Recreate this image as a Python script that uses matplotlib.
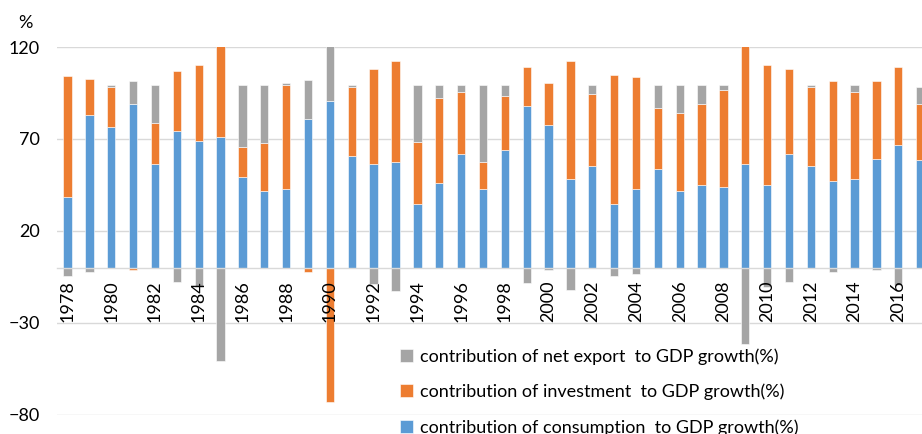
import numpy as np
import matplotlib
matplotlib.use("Agg")
import matplotlib.pyplot as plt

plt.rcParams['font.family'] = ['Lato', 'DejaVu Sans']

years = list(range(1978, 2018))
consumption = [38.4, 83.3, 76.5, 88.8, 56.4, 74.2, 68.7, 71.1, 49.4, 41.7,
               42.9, 81.0, 90.9, 60.8, 56.4, 57.3, 34.9, 46.1, 61.8, 42.9,
               64.2, 87.7, 77.6, 48.3, 55.2, 34.9, 42.9, 53.9, 41.7, 45.1,
               44.0, 56.3, 45.1, 61.8, 55.2, 47.2, 48.3, 59.4, 66.5, 58.4]
investment = [66.1, 19.2, 21.5, -1.0, 22.2, 32.8, 41.6, 79.3, 16.0, 25.9,
              56.2, -2.2, -72.9, 37.2, 51.6, 55.2, 33.6, 46.1, 34.0, 14.5,
              29.2, 21.5, 22.6, 64.2, 39.3, 69.8, 60.7, 32.7, 42.7, 43.8,
              52.9, 85.1, 65.2, 46.2, 42.8, 54.2, 47.5, 42.0, 42.7, 30.5]
net_export = [-4.5, -2.2, 1.1, 12.6, 20.5, -7.6, -10.3, -50.4, 33.7, 31.5,
              1.3, 21.3, 82.0, 1.1, -8.9, -12.5, 30.6, 6.9, 3.3, 41.7,
              5.7, -8.5, -1.1, -12.1, 4.6, -4.4, -3.3, 12.5, 14.7, 10.2,
              2.2, -41.4, -10.3, -7.6, 1.1, -2.2, 3.3, -1.0, -9.2, 9.1]
yticks = [-80, -30, 20, 70, 120]

series = [
    ('contribution of consumption  to GDP growth(%)', consumption, '#5B9BD5'),
    ('contribution of investment  to GDP growth(%)', investment, '#ED7D31'),
    ('contribution of net export  to GDP growth(%)', net_export, '#A5A5A5'),
]

fig = plt.figure(figsize=(9.22, 4.34), dpi=100)
# axes runs a bit past the right edge, like the cropped original
ax = fig.add_axes([0.0614, 0.0438, 0.9485, 0.8479])

# spine first: moving it resets the tick settings
for s in ['top', 'right', 'left']:
    ax.spines[s].set_visible(False)
ax.spines['bottom'].set_position(('data', 0))
ax.spines['bottom'].set_color('#d9d9d9')
ax.spines['bottom'].set_linewidth(1.0)
ax.spines['bottom'].set_zorder(3)

x = np.array(years)
pos_base = np.zeros(len(years))
neg_base = np.zeros(len(years))
handles = []
for label, vals, color in series:
    v = np.array(vals)
    bottom = np.where(v >= 0, pos_base, neg_base)
    b = ax.bar(x, v, width=0.38, bottom=bottom, color=color,
               edgecolor='white', linewidth=0.4, label=label, zorder=2)
    handles.append(b)
    pos_base = pos_base + np.where(v >= 0, v, 0)
    neg_base = neg_base + np.where(v < 0, v, 0)

# gridlines by hand so the year labels can sit above the bars
for yv in yticks:
    ax.axhline(yv, color='#d9d9d9', linewidth=1.0, zorder=0)

ax.set_xlim(1977.5, 2017.5)
ax.set_ylim(-80, 120)
ax.set_yticks(yticks)

ax.set_xticks(years[::2])
ax.set_xticklabels([str(y) for y in years[::2]])
ax.tick_params(axis='x', length=0, pad=9.0, labelsize=13, labelrotation=90)
ax.tick_params(axis='y', length=0, pad=12.0, labelsize=13)
ax.xaxis.set_zorder(5)

fig.text(25.5 / 922, 1 - 22.7 / 434, '%', ha='center', va='center', fontsize=13)

leg = fig.legend(handles[::-1], [h.get_label() for h in handles[::-1]],
                 loc='upper left', bbox_to_anchor=(400 / 922, 1 - 348 / 434),
                 frameon=False, fontsize=13, handlelength=0.7, handleheight=0.7,
                 handletextpad=0.4, labelspacing=1.05, borderpad=0, borderaxespad=0)

fig.savefig('out.png', dpi=100)
